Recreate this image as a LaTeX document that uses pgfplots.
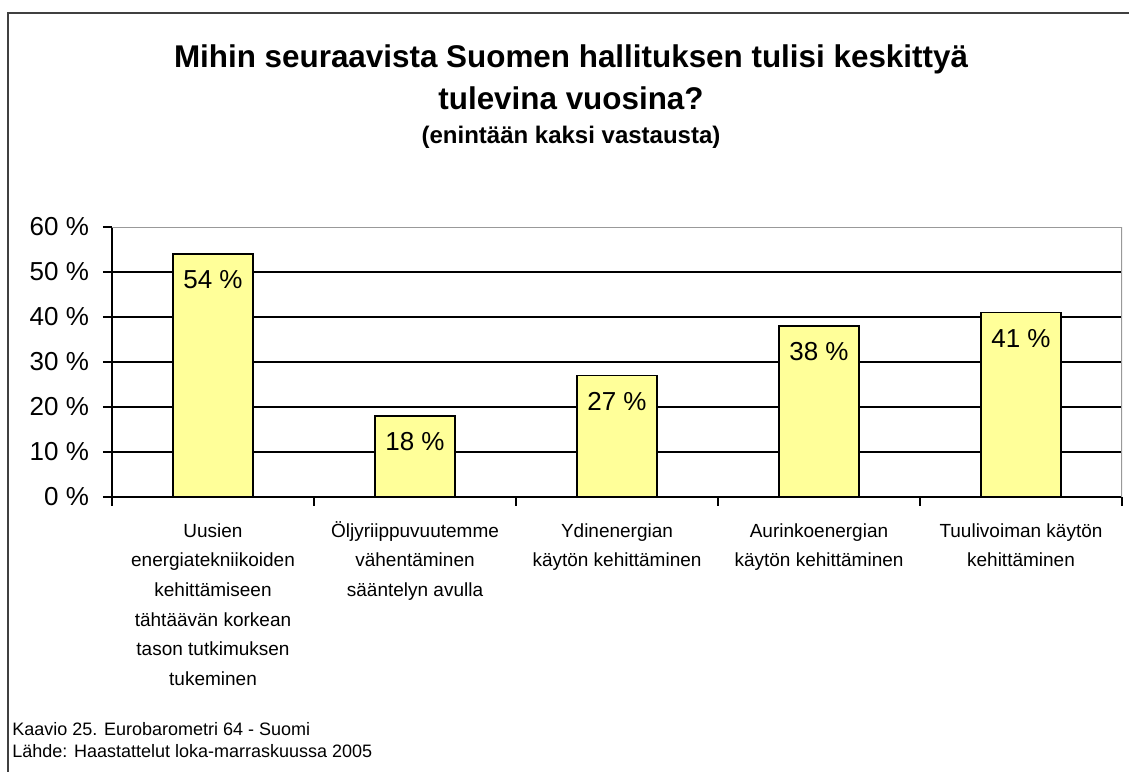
\documentclass[border=0pt]{standalone}
\usepackage{fontspec}
\setmainfont{Liberation Sans}
\usepackage{pgfplots}
\pgfplotsset{compat=1.18}
\definecolor{baryellow}{RGB}{255,255,153}
\begin{document}
\begin{tikzpicture}
\useasboundingbox (0,0) rectangle (564.5pt,385.5pt);
\fill[white] (0,0) rectangle (564.5pt,385.5pt);
\draw[black!75, line width=0.8pt] (4pt,-10pt) -- (4pt,379pt) -- (580pt,379pt);
\node[anchor=base, inner sep=0pt, font=\fontsize{15.7}{18}\selectfont\bfseries] at (285.5pt,351.5pt) {Mihin seuraavista Suomen hallituksen tulisi keskittyä};
\node[anchor=base, inner sep=0pt, font=\fontsize{15.7}{18}\selectfont\bfseries] at (285.5pt,330.5pt) {tulevina vuosina?};
\node[anchor=base, inner sep=0pt, font=\fontsize{12}{14}\selectfont\bfseries] at (285.5pt,313.5pt) {(enintään kaksi vastausta)};
\node[anchor=base west, inner sep=0pt, font=\fontsize{9}{11}\selectfont] at (6pt,18pt) {Kaavio 25. Eurobarometri 64 - Suomi};
\node[anchor=base west, inner sep=0pt, font=\fontsize{9}{11}\selectfont] at (6pt,7pt) {Lähde: Haastattelut loka-marraskuussa 2005};
\begin{axis}[
  at={(56pt,137pt)}, anchor=south west, scale only axis,
  width=505pt, height=135pt,
  xmin=0.5, xmax=5.5, ymin=0, ymax=60,
  axis x line*=bottom, axis y line*=left,
  axis line style={-, black, line width=0.8pt},
  tick align=outside, major tick length=4.5pt,
  tick style={black, line width=0.8pt},
  /pgf/number format/assume math mode=true,
  ytick={0,10,...,60},
  yticklabel={\pgfmathprintnumber{\tick}\ \%},
  yticklabel style={font=\fontsize{13}{15}\selectfont, xshift=-3.5pt},
  extra y ticks={10,20,30,40,50},
  extra y tick labels={},
  extra y tick style={grid=major, major tick length=0pt},
  major grid style={black, line width=0.8pt},
  xtick={0.5,1.5,...,5.5},
  xticklabels={{},{},{},{},{},{}},
  extra x ticks={1,2,3,4,5},
  extra x tick labels={{\strut Uusien\\energiatekniikoiden\\kehittämiseen\\tähtäävän korkean\\tason tutkimuksen\\tukeminen},
    {\strut Öljyriippuvuutemme\\vähentäminen\\sääntelyn avulla},
    {\strut Ydinenergian\\käytön kehittäminen},
    {\strut Aurinkoenergian\\käytön kehittäminen},
    {\strut Tuulivoiman käytön\\kehittäminen}},
  extra x tick style={major tick length=0pt, tick label style={align=center, anchor=north, yshift=-6.3pt, font=\fontsize{9.5}{14.8}\selectfont}},
  ybar, bar width=40pt,
  nodes near coords={\pgfmathprintnumber{\pgfplotspointmeta}\ \%},
  every node near coord/.append style={anchor=center, yshift=-13pt, font=\fontsize{13}{15}\selectfont},
]
\addplot[fill=baryellow, draw=black, line width=0.8pt] coordinates {(1,54) (2,18) (3,27) (4,38) (5,41)};
\draw[black!40, line width=0.6pt] (rel axis cs:0,1) -- (rel axis cs:1,1) -- (rel axis cs:1,0);
\end{axis}
\end{tikzpicture}
\end{document}
